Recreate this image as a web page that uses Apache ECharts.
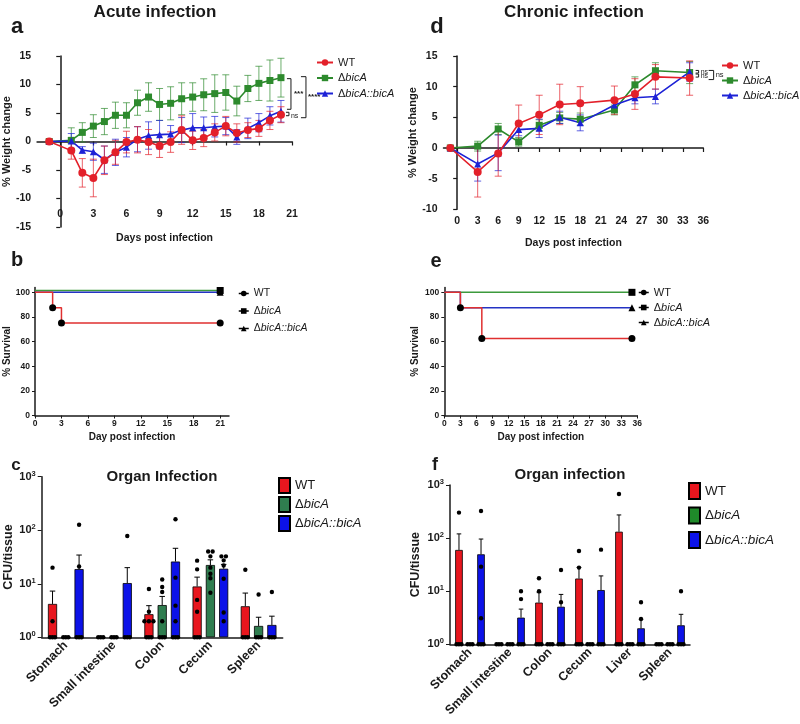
<!DOCTYPE html>
<html><head><meta charset="utf-8">
<script src="https://cdn.jsdelivr.net/npm/echarts@6/dist/echarts.min.js"></script>
<style>html,body{margin:0;padding:0;background:#fff}#c{width:800px;height:724px}</style>
</head><body><div id="c"></div>
<script>
// ================= DATA =================
// Panel a: acute infection, % weight change
const acuteDays = [-1,1,2,3,4,5,6,7,8,9,10,11,12,13,14,15,16,17,18,19,20];
const acuteWT      = [0,-1.6,-5.5,-6.4,-3.3,-1.9,-0.1,0.3,-0.1,-0.8,-0.1,2.0,0.2,0.6,1.6,2.7,1.5,2.0,2.3,3.7,4.7];
const acuteWTErr   = [0,1.5,2.5,3.3,2.5,2.1,1.9,2.3,2.2,2.0,1.8,2.5,1.6,1.5,1.5,1.7,1.6,1.3,1.4,1.6,1.4];
const acuteDel     = [0,0.2,1.6,2.7,3.5,4.6,4.6,6.8,7.8,6.5,6.7,7.5,7.8,8.2,8.4,8.6,7.1,9.3,10.2,10.7,11.2];
const acuteDelErr  = [0,2.2,1.7,2.0,2.3,2.3,2.2,2.2,2.5,2.8,2.9,2.8,2.5,2.8,3.3,3.1,2.6,2.3,3.0,3.6,3.4];
const acuteComp    = [0,0.1,-1.5,-1.8,-3.2,-1.9,-1.0,0.4,1.05,1.2,1.3,2.0,2.4,2.4,2.6,2.7,0.8,2.3,3.3,4.5,5.3];
const acuteCompErr = [0,1.3,0.6,1.5,2.4,2.3,1.7,2.2,2.4,2.5,1.5,2.2,2.5,1.9,1.8,1.5,1.3,1.8,1.6,1.6,1.9];
const acuteDayTicks = [0,3,6,9,12,15,18,21];

// Panel d: chronic infection, % weight change
const chronicDays = [-1,3,6,9,12,15,18,23,26,29,34];
const chronicWT      = [0,-3.9,-0.9,4.0,5.4,7.1,7.3,7.8,8.8,11.6,11.4];
const chronicWTErr   = [0,4.1,3.7,3.0,3.2,3.3,2.7,2.3,2.5,2.0,2.8];
const chronicDel     = [0,0.3,3.1,1.0,3.7,4.9,4.7,6.2,10.3,12.6,12.3];
const chronicDelErr  = [0,0.8,0.9,0.7,0.9,0.9,1.0,0.8,1.3,1.3,1.8];
const chronicComp    = [0,-2.6,-0.8,3.0,3.2,5.0,4.1,7.0,8.2,8.4,12.4];
const chronicCompErr = [0,2.8,2.9,1.0,1.5,1.0,1.3,1.0,1.0,1.2,1.5];
const chronicDayTicks = [0,3,6,9,12,15,18,21,24,27,30,33,36];

// Panel b: acute survival
const survAcuteWTDays = [0,2,3,21];     const survAcuteWT = [100,87.5,75,75];
const survAcuteDelDays = [0,21];       const survAcuteDel = [101.5,101.5];
const survAcuteCompDays = [0,21];      const survAcuteComp = [100,100];
// Panel e: chronic survival
const survChronicWTDays = [0,3,7,35];  const survChronicWT = [100,87.5,62.5,62.5];
const survChronicDelDays = [0,35];     const survChronicDel = [100,100];
const survChronicCompDays = [0,3,35];  const survChronicComp = [100,87.5,87.5];
const survTicks = [0,20,40,60,80,100];

// Panel c: acute organ CFU
const organsAcute = ['Stomach','Small intestine','Colon','Cecum','Spleen'];
const acuteCfuWT      = [4.2,1,2.7,8.9,3.8];
const acuteCfuWTTop   = [7.3,1,3.9,13.3,6.7];
const acuteCfuDel     = [1,1,4.0,22.4,1.63];
const acuteCfuDelTop  = [1,1,5.8,28,2.37];
const acuteCfuComp    = [18.8,10.3,26,19.1,1.7];
const acuteCfuCompTop = [34.4,20,46,23,2.48];
const acuteDotsWT   = [[20,2,1,1,1],[1,1,1],[8,3,2,2,2,1,1,1],[27,18.6,5,3,1,1,1],[18.3,1,1,1]];
const acuteDotsDel  = [[1,1,1],[1,1,1],[12,8.7,7,2,1,1,1],[40,40,32.5,20,15.4,12.7,6.8],[6.3,1,1,1]];
const acuteDotsComp = [[127,21,1,1,1],[78,1,1,1],[160,13,3.9,2,1,1,1],[32.5,32.5,27.4,22,12.4,2.9,2],[7,1,1,1]];

// Panel f: chronic organ CFU
const organsChronic = ['Stomach','Small intestine','Colon','Cecum','Liver','Spleen'];
const chronicCfuWT      = [59.8,1,6.1,17.3,132,1];
const chronicCfuWTTop   = [120,1,9.4,28,273,1];
const chronicCfuDel     = [1,1,1,1,1,1];
const chronicCfuDelTop  = [1,1,1,1,1,1];
const chronicCfuComp    = [49.5,3.18,5.1,10.5,2.0,2.28];
const chronicCfuCompTop = [96,4.6,8.7,19.4,2.95,3.67];
const chronicDotsWT   = [[302,1,1,1],[1,1,1],[17.5,10,1,1,1],[57,27.8,1,1,1],[677,1,1,1],[1,1,1]];
const chronicDotsDel  = [[1,1,1],[1,1,1],[1,1,1],[1,1,1],[1,1,1],[1,1,1]];
const chronicDotsComp = [[324,29,3.1,1,1,1],[10,7.1,1,1,1],[25,6.2,1,1,1],[60.6,1,1,1],[6.2,3.0,1,1,1],[10,1,1,1]];

// ================= STYLE =================
const FONT = "'Liberation Sans', Arial, Helvetica, sans-serif";
const INK = '#1a1a1a';
const RED = '#e3202a', GREEN = '#2d8a2d', BLUE = '#1d22d6';
const BAR_RED = '#e8161e', BAR_GREEN = '#2f7d4f', BAR_BLUE = '#0c12e8';
const BAR_W = 0.19, BAR_GAP = 0.45, OFF = BAR_W * (1 + BAR_GAP);

const chart = echarts.init(document.getElementById('c'), null, {renderer: 'canvas'});

function fmtName(n) {
  const t = n.split('|')[1];
  return t.charAt(0) === 'Δ' ? 'Δ{i|' + t.slice(1) + '}' : t;
}
function axisLineStyle() { return {show: true, lineStyle: {color: INK, width: 1.5}}; }

function lineSeries(name, xs, ys, color, symbol, size, idx) {
  return {type: 'line', name, xAxisIndex: idx, yAxisIndex: idx,
    data: xs.map((x, i) => [x, ys[i]]), symbol, symbolSize: size,
    itemStyle: {color}, lineStyle: {color, width: 1.6}, z: 4};
}
function errSeries(xs, ys, es, color, idx) {
  const data = [];
  xs.forEach((x, i) => { if (es[i] > 0) data.push([x, ys[i] - es[i], ys[i] + es[i]]); });
  return {type: 'custom', xAxisIndex: idx, yAxisIndex: idx, data, silent: true, z: 3,
    encode: {x: 0, y: [1, 2]},
    renderItem(params, api) {
      const x = api.value(0), lo = api.value(1), hi = api.value(2);
      const p1 = api.coord([x, lo]), p2 = api.coord([x, hi]); const w = 3.5;
      const st = {stroke: color, lineWidth: 1, opacity: 0.7};
      return {type: 'group', children: [
        {type: 'line', shape: {x1: p1[0], y1: p1[1], x2: p2[0], y2: p2[1]}, style: st},
        {type: 'line', shape: {x1: p1[0] - w, y1: p1[1], x2: p1[0] + w, y2: p1[1]}, style: st},
        {type: 'line', shape: {x1: p2[0] - w, y1: p2[1], x2: p2[0] + w, y2: p2[1]}, style: st}]};
    }};
}
function survSeries(name, xs, ys, color, symbol, allMarks, idx) {
  const last = xs.length - 1;
  return {type: 'line', name, step: 'end', xAxisIndex: idx, yAxisIndex: idx,
    data: xs.map((x, i) => ({value: [x, ys[i]],
      symbol: (i === last || (allMarks && i > 0)) ? symbol : 'none'})),
    symbol, symbolSize: 7, itemStyle: {color: '#000'},
    lineStyle: {color, width: 1.5}, z: 3};
}
function barSeries(name, vals, color, idx) {
  return {type: 'bar', name, xAxisIndex: idx, yAxisIndex: idx, data: vals,
    barWidth: (BAR_W * 100) + '%', barGap: (BAR_GAP * 100) + '%',
    itemStyle: {color, borderColor: '#000', borderWidth: 0.8}, z: 2};
}
function barErrSeries(vals, tops, k, idx) {
  const data = vals.map((v, i) => [i, v, tops[i]]);
  return {type: 'custom', xAxisIndex: idx, yAxisIndex: idx, data, silent: true, z: 3,
    encode: {x: 0, y: [1, 2]},
    renderItem(params, api) {
      const c = api.value(0), v = api.value(1), t = api.value(2);
      if (!(t > v)) return null;
      const p0 = api.coord([c, v]), p1 = api.coord([c, t]);
      const band = api.coord([1, v])[0] - api.coord([0, v])[0];
      const x = p0[0] + (k - 1) * band * OFF; const hw = band * BAR_W * 0.3;
      const st = {stroke: '#000', lineWidth: 1};
      return {type: 'group', children: [
        {type: 'line', shape: {x1: x, y1: p0[1], x2: x, y2: p1[1]}, style: st},
        {type: 'line', shape: {x1: x - hw, y1: p1[1], x2: x + hw, y2: p1[1]}, style: st}]};
    }};
}
function dotSeries(dotsPerCat, k, idx) {
  const data = [];
  dotsPerCat.forEach((arr, c) => {
    const counts = {}; arr.forEach(v => counts[v] = (counts[v] || 0) + 1);
    const seen = {};
    arr.forEach(v => { const r = seen[v] || 0; seen[v] = r + 1; data.push([c, v, r - (counts[v] - 1) / 2]); });
  });
  return {type: 'custom', xAxisIndex: idx, yAxisIndex: idx, data, silent: true, z: 5,
    encode: {x: 0, y: 1},
    renderItem(params, api) {
      const c = api.value(0), v = api.value(1), r = api.value(2);
      const p = api.coord([c, v]);
      const band = api.coord([1, v])[0] - api.coord([0, v])[0];
      const sp = v === 1 ? 2.5 : 4.5;
      return {type: 'circle', shape: {cx: p[0] + (k - 1) * band * OFF + r * sp, cy: p[1], r: 2.2},
        style: {fill: '#000'}};
    }};
}

const tickLabel = (size) => ({color: INK, fontFamily: FONT, fontWeight: 'bold', fontSize: size});
const nameStyle = (size) => ({color: INK, fontFamily: FONT, fontWeight: 'bold', fontSize: size});

function weightX(idx, min, max, ticks, margin, gap) {
  return {type: 'value', gridIndex: idx, min, max,
    axisLine: {show: true, onZero: true, lineStyle: {color: INK, width: 1.5}},
    axisTick: {show: true, length: 4, customValues: ticks, lineStyle: {color: INK, width: 1.2}},
    axisLabel: Object.assign({customValues: ticks, margin}, tickLabel(10.5)),
    splitLine: {show: false},
    name: 'Days post infection', nameLocation: 'middle', nameGap: gap, nameTextStyle: nameStyle(10.5)};
}
function weightY(idx, min, max, gap) {
  return {type: 'value', gridIndex: idx, min, max, interval: 5,
    axisLine: axisLineStyle(), axisTick: {show: true, length: 4, lineStyle: {color: INK, width: 1.2}},
    axisLabel: Object.assign({margin: 6}, tickLabel(10.5)), splitLine: {show: false},
    name: '% Weight change', nameLocation: 'middle', nameGap: gap, nameTextStyle: nameStyle(11)};
}
function survX(idx, max, ticks) {
  return {type: 'value', gridIndex: idx, min: 0, max,
    axisLine: axisLineStyle(),
    axisTick: {show: true, length: 3, customValues: ticks, lineStyle: {color: INK}},
    axisLabel: Object.assign({customValues: ticks, margin: 4}, tickLabel(8.5)),
    splitLine: {show: false},
    name: 'Day post infection', nameLocation: 'middle', nameGap: 17, nameTextStyle: nameStyle(10)};
}
function survY(idx, gap) {
  return {type: 'value', gridIndex: idx, min: 0, max: 104,
    axisLine: axisLineStyle(),
    axisTick: {show: true, length: 3, customValues: survTicks, lineStyle: {color: INK}},
    axisLabel: Object.assign({customValues: survTicks, margin: 5}, tickLabel(8.5)),
    splitLine: {show: false},
    name: '% Survival', nameLocation: 'middle', nameGap: gap, nameTextStyle: nameStyle(10)};
}
function cfuX(idx, cats) {
  return {type: 'category', gridIndex: idx, data: cats,
    axisLine: axisLineStyle(), axisTick: {show: false},
    axisLabel: Object.assign({rotate: 45, margin: 6, interval: 0}, tickLabel(12.5))};
}
function cfuY(idx, gap) {
  return {type: 'log', gridIndex: idx, logBase: 10, min: 1, max: 1000,
    axisLine: axisLineStyle(),
    axisTick: {show: true, length: 4, lineStyle: {color: INK}},
    minorTick: {show: false}, splitLine: {show: false},
    axisLabel: Object.assign({margin: 6,
      formatter: v => '10{sup|' + Math.round(Math.log10(v)) + '}',
      rich: {sup: {fontSize: 7.5, fontWeight: 'bold', fontFamily: FONT, color: INK, verticalAlign: 'top', padding: [0, 0, 6, 0]}}
    }, tickLabel(11)),
    name: 'CFU/tissue', nameLocation: 'middle', nameGap: gap, nameTextStyle: nameStyle(12.5)};
}
function legend(names, left, top, size, gap, opts) {
  return Object.assign({orient: 'vertical', left, top, padding: 0, itemGap: gap, data: names,
    formatter: fmtName, selectedMode: false,
    textStyle: {fontFamily: FONT, fontSize: size, color: INK,
      rich: {i: {fontFamily: FONT, fontSize: size, fontStyle: 'italic', color: INK}}}}, opts || {});
}

const N = ['WT', 'ΔbicA', 'ΔbicA::bicA'];
const nm = (p) => N.map(n => p + '|' + n);
const blackIcons = (p) => nm(p).map(n => ({name: n, itemStyle: {color: '#000'}, lineStyle: {color: '#000', width: 1.5}}));

const option = {
  animation: false,
  backgroundColor: '#fff',
  grid: [
    {left: 33, top: 56, width: 259, height: 171},          // a
    {left: 443.5, top: 56, width: 259.8, height: 153.3},   // d
    {left: 35, top: 287.4, width: 194, height: 128.1},     // b
    {left: 444.3, top: 287.4, width: 193, height: 128.1},  // e
    {left: 41.7, top: 476.7, width: 241, height: 160.6},   // c
    {left: 450, top: 485, width: 240, height: 159.3}       // f
  ],
  xAxis: [
    weightX(0, -2.1, 21, acuteDayTicks, -18, 5.5),
    weightX(1, -2, 36, chronicDayTicks, 6.5, 28),
    survX(2, 22, acuteDayTicks),
    survX(3, 36, chronicDayTicks),
    cfuX(4, organsAcute),
    cfuX(5, organsChronic)
  ],
  yAxis: [
    weightY(0, -15, 15, 19),
    weightY(1, -10, 15, 23),
    survY(2, 23),
    survY(3, 24),
    cfuY(4, 26),
    cfuY(5, 28)
  ],
  legend: [
    legend(nm('a'), 316, 57, 11, 4.5, {itemWidth: 16, itemHeight: 8}),
    legend(nm('d'), 721, 60, 11, 4, {itemWidth: 16, itemHeight: 8}),
    legend(blackIcons('b'), 238, 288, 10.5, 6.5, {itemWidth: 10, itemHeight: 7}),
    legend(blackIcons('e'), 638, 287, 11, 4, {itemWidth: 10, itemHeight: 7}),
    legend(nm('c'), 278, 477, 13, 2, {itemWidth: 11, itemHeight: 15, icon: 'rect'}),
    legend(nm('f'), 688, 482, 13.5, 6.5, {itemWidth: 11, itemHeight: 16, icon: 'rect'})
  ],
  series: [
    // a
    errSeries(acuteDays, acuteDel, acuteDelErr, GREEN, 0),
    errSeries(acuteDays, acuteComp, acuteCompErr, BLUE, 0),
    errSeries(acuteDays, acuteWT, acuteWTErr, RED, 0),
    lineSeries('a|ΔbicA', acuteDays, acuteDel, GREEN, 'rect', 7, 0),
    lineSeries('a|ΔbicA::bicA', acuteDays, acuteComp, BLUE, 'triangle', 7, 0),
    lineSeries('a|WT', acuteDays, acuteWT, RED, 'circle', 8, 0),
    // d
    errSeries(chronicDays, chronicDel, chronicDelErr, GREEN, 1),
    errSeries(chronicDays, chronicComp, chronicCompErr, BLUE, 1),
    errSeries(chronicDays, chronicWT, chronicWTErr, RED, 1),
    lineSeries('d|ΔbicA', chronicDays, chronicDel, GREEN, 'rect', 7, 1),
    lineSeries('d|ΔbicA::bicA', chronicDays, chronicComp, BLUE, 'triangle', 7, 1),
    lineSeries('d|WT', chronicDays, chronicWT, RED, 'circle', 8, 1),
    // b
    survSeries('b|ΔbicA', survAcuteDelDays, survAcuteDel, '#3c9a3c', 'rect', false, 2),
    survSeries('b|ΔbicA::bicA', survAcuteCompDays, survAcuteComp, '#2433c4', 'triangle', false, 2),
    survSeries('b|WT', survAcuteWTDays, survAcuteWT, '#e03030', 'circle', true, 2),
    // e
    survSeries('e|ΔbicA', survChronicDelDays, survChronicDel, '#3c9a3c', 'rect', false, 3),
    survSeries('e|ΔbicA::bicA', survChronicCompDays, survChronicComp, '#2433c4', 'triangle', false, 3),
    survSeries('e|WT', survChronicWTDays, survChronicWT, '#e03030', 'circle', true, 3),
    // c
    barSeries('c|WT', acuteCfuWT, BAR_RED, 4),
    barSeries('c|ΔbicA', acuteCfuDel, BAR_GREEN, 4),
    barSeries('c|ΔbicA::bicA', acuteCfuComp, BAR_BLUE, 4),
    barErrSeries(acuteCfuWT, acuteCfuWTTop, 0, 4),
    barErrSeries(acuteCfuDel, acuteCfuDelTop, 1, 4),
    barErrSeries(acuteCfuComp, acuteCfuCompTop, 2, 4),
    dotSeries(acuteDotsWT, 0, 4), dotSeries(acuteDotsDel, 1, 4), dotSeries(acuteDotsComp, 2, 4),
    // f
    barSeries('f|WT', chronicCfuWT, BAR_RED, 5),
    barSeries('f|ΔbicA', chronicCfuDel, '#1f8a2a', 5),
    barSeries('f|ΔbicA::bicA', chronicCfuComp, BAR_BLUE, 5),
    barErrSeries(chronicCfuWT, chronicCfuWTTop, 0, 5),
    barErrSeries(chronicCfuDel, chronicCfuDelTop, 1, 5),
    barErrSeries(chronicCfuComp, chronicCfuCompTop, 2, 5),
    dotSeries(chronicDotsWT, 0, 5), dotSeries(chronicDotsDel, 1, 5), dotSeries(chronicDotsComp, 2, 5)
  ]
};
chart.setOption(option);

// ================= ANNOTATIONS =================
function txt(text, x, y, size, opts) {
  return {type: 'text', x, y, silent: true, style: Object.assign({
    text, fill: INK, font: 'bold ' + size + 'px ' + FONT,
    align: 'center', verticalAlign: 'middle', textAlign: 'center', textVerticalAlign: 'middle'}, opts || {})};
}
function bracket(x, y1, y2, arm) {
  return {type: 'polyline', silent: true, shape: {points: [[x - arm, y1], [x, y1], [x, y2], [x - arm, y2]]},
    style: {stroke: INK, lineWidth: 1, fill: null}};
}
const P = (g, pt) => chart.convertToPixel({gridIndex: g}, pt);
const L = {align: 'left', textAlign: 'left'};
const gfx = [
  txt('Acute infection', 155, 12, 17),
  txt('Chronic infection', 574, 12, 17),
  txt('a', 17, 27, 22), txt('d', 437, 27, 22),
  txt('b', 17, 260, 20), txt('e', 436, 261, 20),
  txt('c', 16, 465, 17), txt('f', 435, 465, 18),
  txt('Organ Infection', 162, 477, 15),
  txt('Organ infection', 570, 475, 15)
];
// panel a significance brackets
const aLast = acuteDays.length - 1;
const aG = P(0, [acuteDays[aLast], acuteDel[aLast]]);
const aB = P(0, [acuteDays[aLast], acuteComp[aLast]]);
const aR = P(0, [acuteDays[aLast], acuteWT[aLast]]);
gfx.push(bracket(aG[0] + 10, aG[1] + 1, aB[1] - 2, 4));
gfx.push(txt('***', aG[0] + 13, (aG[1] + aB[1]) / 2 - 1, 8, L));
gfx.push(bracket(aB[0] + 8, aB[1] + 1, aR[1] + 1, 3));
gfx.push(txt('ns', aB[0] + 10, (aB[1] + aR[1]) / 2 + 3, 7, Object.assign({font: '7px ' + FONT}, L)));
gfx.push(bracket(aG[0] + 25, aG[1] - 1, aR[1] + 3, 5));
gfx.push(txt('****', aG[0] + 27, (aG[1] + aR[1]) / 2 + 1, 8, L));
// panel d brackets
const dLast = chronicDays.length - 1;
const dG = P(1, [chronicDays[dLast], chronicDel[dLast]]);
const dB = P(1, [chronicDays[dLast], chronicComp[dLast]]);
const dR = P(1, [chronicDays[dLast], chronicWT[dLast]]);
gfx.push(bracket(dB[0] + 9, dB[1] - 1.5, dG[1] + 0.5, 3));
gfx.push(bracket(dG[0] + 9, dG[1] + 1.5, dR[1] - 1, 3));
gfx.push(txt('ns', dB[0] + 11, dB[1] + 0.5, 7, Object.assign({font: '7px ' + FONT}, L)));
gfx.push(txt('ns', dG[0] + 11, dG[1] + 3.5, 7, Object.assign({font: '7px ' + FONT}, L)));
gfx.push(bracket(dB[0] + 24, dB[1] - 1.5, dR[1] + 1.5, 5));
gfx.push(txt('ns', dB[0] + 26, (dB[1] + dR[1]) / 2, 7.5, Object.assign({font: '7.5px ' + FONT}, L)));
chart.setOption({graphic: {elements: gfx}});
</script></body></html>
